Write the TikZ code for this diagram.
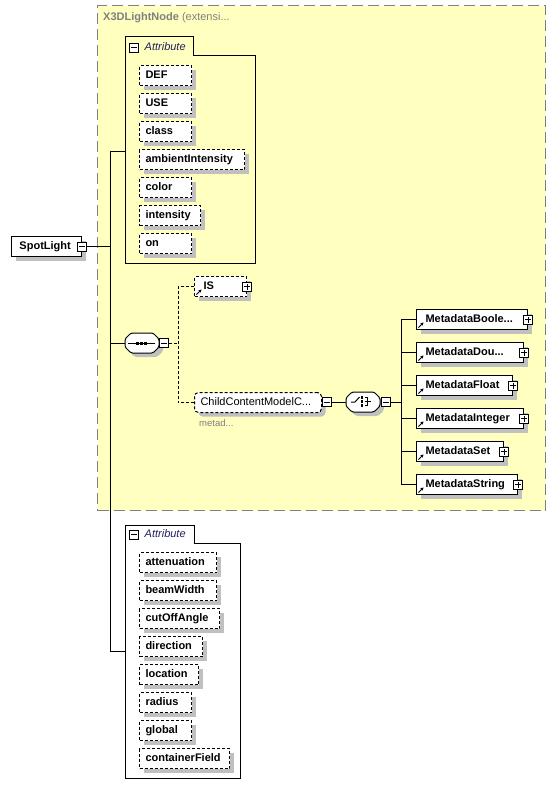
\documentclass[tikz,border=0pt]{standalone}
\usepackage{fontspec}
\setmainfont{Liberation Sans}
\usetikzlibrary{shadows,arrows.meta,calc}
\definecolor{ylw}{RGB}{255,255,192}
\definecolor{dgray}{RGB}{128,128,128}
\definecolor{shgray}{RGB}{192,192,192}
\definecolor{navy}{RGB}{32,32,96}
\tikzset{
  every node/.style={font=\fontsize{11}{13}\selectfont},
  shad/.style={drop shadow={shadow xshift=4pt,shadow yshift=-4pt,fill=shgray,opacity=1}},
  conn/.style={line width=1pt},
  dconn/.style={line width=1pt,dash pattern=on 3pt off 2pt},
  attrbox/.style={draw,line width=1pt,dash pattern=on 3pt off 2pt,fill=white,shad,anchor=north west,
    inner sep=0pt,minimum height=20pt,text height=8pt,text depth=2pt,font=\bfseries\fontsize{11}{13}\selectfont},
  elbox/.style={draw,line width=1pt,fill=white,shad,anchor=north west,
    inner sep=0pt,minimum height=20pt,text height=8pt,text depth=2pt,font=\bfseries\fontsize{11}{13}\selectfont},
  iconbox/.style={draw,line width=1pt,fill=white,minimum size=9pt,inner sep=0pt},
  ghost/.style={inner sep=0pt,outer sep=0pt},
}
\newcommand\attrnode[5]{\node[attrbox] (#1) at (#2,#3) {\makebox[#4pt][l]{\hspace{6pt}#5}};}
\newcommand\elnode[5]{\node[elbox] (#1) at (#2,#3) {\makebox[#4pt][l]{\hspace{9pt}#5}};}
\newcommand\minusicon[2]{\node[iconbox] (#1) at (#2) {};
  \draw[line width=1pt] ([xshift=2pt]#1.west) -- ([xshift=-2pt]#1.east);}
\newcommand\plusicon[2]{\node[iconbox] (#1) at (#2) {};
  \draw[line width=1pt] ([xshift=2pt]#1.west) -- ([xshift=-2pt]#1.east);
  \draw[line width=1pt] ([yshift=2pt]#1.south) -- ([yshift=-2pt]#1.north);}
\newcommand\linkicon[1]{\draw[line width=0.9pt,-{Stealth[length=3pt,width=3.5pt]}] ([xshift=2.5pt,yshift=2.5pt]#1.south west) -- ++(5,-5);}
\newcommand\octa[1]{\draw[conn,fill=white,shad,rounded corners=1.5pt] ($(#1.center)+(-17,-4)$) -- ($(#1.center)+(-11,-10)$) -- ($(#1.center)+(11,-10)$) -- ($(#1.center)+(17,-4)$) -- ($(#1.center)+(17,4)$) -- ($(#1.center)+(11,10)$) -- ($(#1.center)+(-11,10)$) -- ($(#1.center)+(-17,4)$) -- cycle;}
\begin{document}
\begin{tikzpicture}[x=1pt,y=-1pt]
\useasboundingbox (0,0) rectangle (556,796);
\fill[white] (0,0) rectangle (556,796);

% extension container
\node[draw=dgray,fill=ylw,line width=1pt,dash pattern=on 11pt off 5pt,anchor=north west,minimum width=448pt,minimum height=505pt,inner sep=0pt] (ext) at (97,5) {};
\node[anchor=west,inner sep=0pt,text=dgray] (title) at (103,17.5) {\textbf{X3DLightNode} (extensi...};

% attribute group A
\node[ghost,minimum width=130pt,minimum height=208pt,anchor=north west] (attrA) at (125,55) {};
\draw[conn] (125,36) -- (193,36) -- (193,55) -- (255,55) -- (255,263) -- (125,263) -- cycle;
\minusicon{amA}{134,47.5}
\node[anchor=west,inner sep=0pt,text=navy,font=\itshape\fontsize{11}{13}\selectfont] (atA) at (144.5,47) {Attribute};
\attrnode{def}{139}{65}{52}{DEF}
\attrnode{use}{139}{93}{52}{USE}
\attrnode{cls}{139}{121}{52}{class}
\attrnode{amb}{139}{149}{105}{ambientIntensity}
\attrnode{col}{139}{177}{52}{color}
\attrnode{ints}{139}{205}{61}{intensity}
\attrnode{on}{139}{233}{52}{on}

% attribute group B
\node[ghost,minimum width=115pt,minimum height=235pt,anchor=north west] (attrB) at (125,543) {};
\draw[conn] (125,525) -- (194,525) -- (194,543) -- (240,543) -- (240,778) -- (125,778) -- cycle;
\minusicon{amB}{134,534.5}
\node[anchor=west,inner sep=0pt,text=navy,font=\itshape\fontsize{11}{13}\selectfont] (atB) at (144.5,534) {Attribute};
\attrnode{att}{139}{552}{77}{attenuation}
\attrnode{bw}{139}{580}{77}{beamWidth}
\attrnode{coa}{139}{608}{80}{cutOffAngle}
\attrnode{dir}{139}{636}{63}{direction}
\attrnode{loc}{139}{664}{59}{location}
\attrnode{rad}{139}{692}{52}{radius}
\attrnode{glb}{139}{720}{52}{global}
\attrnode{cf}{139}{748}{90}{containerField}

% root element
\node[elbox] (spot) at (11,236) {\makebox[70pt][l]{\hspace{8pt}SpotLight}};
\minusicon{spm}{spot.east}

% sequence
\node[ghost,minimum width=34pt,minimum height=20pt] (seq) at (142,343) {};
\octa{seq}
\draw[conn] (128,343) -- (155,343);
\foreach \dx in {137.5,141.5,145.5} \fill (\dx-1.5,341.5) rectangle (\dx+1.5,344.5);
\minusicon{seqm}{164,343}

% IS
\attrnode{isn}{194}{276}{52}{\hspace{3pt}IS}
\plusicon{isp}{isn.east}
\linkicon{isn}

% child content model
\node[draw,line width=1pt,dash pattern=on 3pt off 2pt,rounded corners=4pt,fill=white,shad,anchor=north west,inner sep=0pt,minimum height=20pt,text height=8pt,text depth=2pt] (ccm) at (194,392) {\makebox[127pt][l]{\hspace{6pt}ChildContentModelC...}};
\node[anchor=west,inner sep=0pt,text=dgray,font=\fontsize{9.5}{11}\selectfont] (mtd) at (199,423) {metad...};
\minusicon{ccmm}{327,402}

% choice
\node[ghost,minimum width=34pt,minimum height=20pt] (cho) at (363,402) {};
\octa{cho}
\draw[line width=1pt] (351,402) -- (355,402) -- (359.5,397);
\foreach \dy in {397.5,401.5,405.5} \fill (361,\dy-1.2) rectangle (363.4,\dy+1.2);
\draw[line width=1pt] (364.5,397.5) -- (367.5,397.5) -- (367.5,405.5) -- (364.5,405.5);
\draw[line width=1pt] (364.5,401.5) -- (371,401.5);
\minusicon{chom}{386,402}

% metadata elements
\elnode{mb1}{416}{309}{111}{MetadataBoole...}
\elnode{mb2}{416}{342}{107}{MetadataDou...}
\elnode{mb3}{416}{375}{96}{MetadataFloat}
\elnode{mb4}{416}{408}{107}{MetadataInteger}
\elnode{mb5}{416}{441}{87}{MetadataSet}
\elnode{mb6}{416}{474}{101}{MetadataString}
\foreach \m in {mb1,mb2,mb3,mb4,mb5,mb6} {
  \plusicon{\m p}{\m.east}
  \linkicon{\m}
}

% connectors
\coordinate (jA) at (110,151);
\coordinate (jB) at (110,651);
\draw[conn] (jA) -- (jB);
\draw[conn] (spm.east) -- (spm.east -| jA);
\draw[conn] (jA) -- (jA -| attrA.west);
\draw[conn] (seq.west -| jA) -- (seq.west);
\draw[conn] (jB) -- (jB -| attrB.west);

\coordinate (jS) at (178,343);
\draw[dconn] (seqm.east) -- (jS);
\draw[dconn] (isn.west) -| (jS);
\draw[dconn] (ccm.west) -| (jS);

\draw[conn] (ccmm.east) -- (cho.west);
\coordinate (jC) at (401,402);
\draw[conn] (chom.east) -- (jC);
\foreach \m in {mb1,mb2,mb3,mb4,mb5,mb6} \draw[conn] (\m.west) -| (jC);
\end{tikzpicture}
\end{document}
